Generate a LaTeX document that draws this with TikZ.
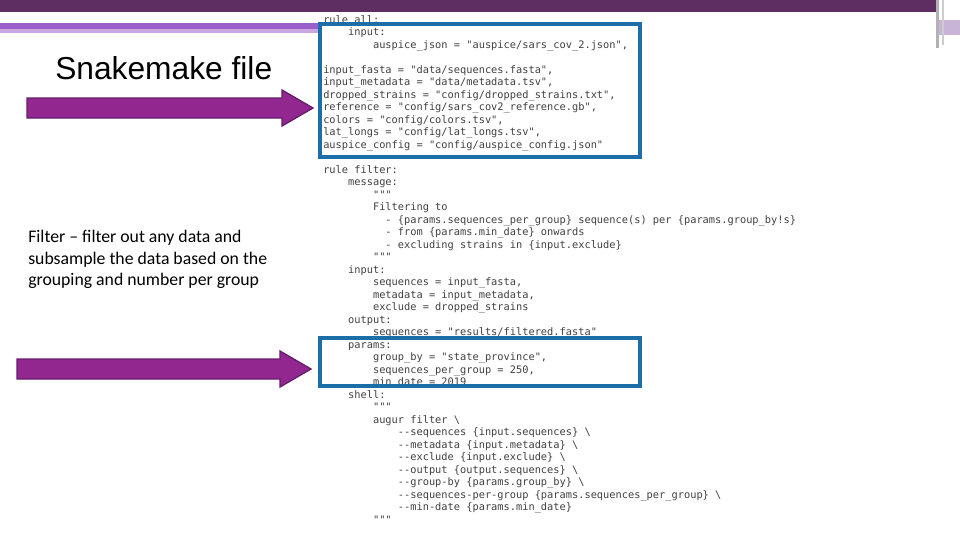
\documentclass[tikz,border=0pt]{standalone}
\usepackage{fontspec}
\setmainfont{Liberation Sans}
\newfontfamily\codefont{DejaVu Sans Mono}
\newfontfamily\bodyfont{Carlito}
\definecolor{topbar}{RGB}{94,46,98}
\definecolor{stripeA}{RGB}{155,95,203}
\definecolor{stripeB}{RGB}{200,166,224}
\definecolor{stripeC}{RGB}{200,180,215}
\definecolor{boxblue}{RGB}{27,110,168}
\definecolor{arrowfill}{RGB}{146,39,143}
\definecolor{arrowline}{RGB}{100,30,110}
\begin{document}
\begin{tikzpicture}[x=0.75pt,y=-0.75pt,
  code/.style={font=\codefont\fontsize{7.75}{9}\selectfont,text=black!75,inner sep=0pt,anchor=base west},
  hl/.style={draw=boxblue,line width=2.3pt},
  parrow/.style={fill=arrowfill,draw=arrowline,line width=1pt}]
\useasboundingbox (0,0) rectangle (960,540);
\fill[white] (0,0) rectangle (960,540);
\fill[topbar] (0,0) rectangle (938,12);
\fill[stripeA] (0,23) rectangle (320,29);
\fill[stripeB] (0,29) rectangle (320,33);
\fill[stripeC] (938,20) rectangle (960,35);
\fill[black!30] (936,0) rectangle (939,48);
\fill[black!20] (942,0) rectangle (944,45);
\newcommand\cl[3]{\node[code] (c#1) at ({323+6.22*#2},{23+12.5*#1}) {#3};}
\cl{0}{0}{rule all:}
\cl{1}{4}{input:}
\cl{2}{8}{auspice\_json = "auspice/sars\_cov\_2.json",}
\cl{4}{0}{input\_fasta = "data/sequences.fasta",}
\cl{5}{0}{input\_metadata = "data/metadata.tsv",}
\cl{6}{0}{dropped\_strains = "config/dropped\_strains.txt",}
\cl{7}{0}{reference = "config/sars\_cov2\_reference.gb",}
\cl{8}{0}{colors = "config/colors.tsv",}
\cl{9}{0}{lat\_longs = "config/lat\_longs.tsv",}
\cl{10}{0}{auspice\_config = "config/auspice\_config.json"}
\cl{12}{0}{rule filter:}
\cl{13}{4}{message:}
\cl{14}{8}{"""}
\cl{15}{8}{Filtering to}
\cl{16}{10}{- \{params.sequences\_per\_group\} sequence(s) per \{params.group\_by!s\}}
\cl{17}{10}{- from \{params.min\_date\} onwards}
\cl{18}{10}{- excluding strains in \{input.exclude\}}
\cl{19}{8}{"""}
\cl{20}{4}{input:}
\cl{21}{8}{sequences = input\_fasta,}
\cl{22}{8}{metadata = input\_metadata,}
\cl{23}{8}{exclude = dropped\_strains}
\cl{24}{4}{output:}
\cl{25}{8}{sequences = "results/filtered.fasta"}
\cl{26}{4}{params:}
\cl{27}{8}{group\_by = "state\_province",}
\cl{28}{8}{sequences\_per\_group = 250,}
\cl{29}{8}{min\_date = 2019}
\cl{30}{4}{shell:}
\cl{31}{8}{"""}
\cl{32}{8}{augur filter \textbackslash}
\cl{33}{12}{-{}-sequences \{input.sequences\} \textbackslash}
\cl{34}{12}{-{}-metadata \{input.metadata\} \textbackslash}
\cl{35}{12}{-{}-exclude \{input.exclude\} \textbackslash}
\cl{36}{12}{-{}-output \{output.sequences\} \textbackslash}
\cl{37}{12}{-{}-group-by \{params.group\_by\} \textbackslash}
\cl{38}{12}{-{}-sequences-per-group \{params.sequences\_per\_group\} \textbackslash}
\cl{39}{12}{-{}-min-date \{params.min\_date\}}
\cl{40}{8}{"""}
\draw[hl] (320,24) rectangle (640,157);
\draw[hl] (320,338) rectangle (640,386);
\node[font=\fontsize{23.8}{28}\selectfont,anchor=west,inner sep=0pt] (title) at (55,68) {Snakemake file};
\node[font=\bodyfont\fontsize{13.3}{16.1}\selectfont,align=left,anchor=north west,inner sep=0pt] (desc) at (28,230)
  {Filter \textendash\ filter out any data and\\subsample the data based on the\\grouping and number per group};
\draw[parrow] (27,98) -- (282,98) -- (282,90) -- (313,108) -- (282,126) -- (282,118) -- (27,118) -- cycle;
\draw[parrow] (17,359) -- (280,359) -- (280,351) -- (311,369) -- (280,387) -- (280,379) -- (17,379) -- cycle;
\end{tikzpicture}
\end{document}
